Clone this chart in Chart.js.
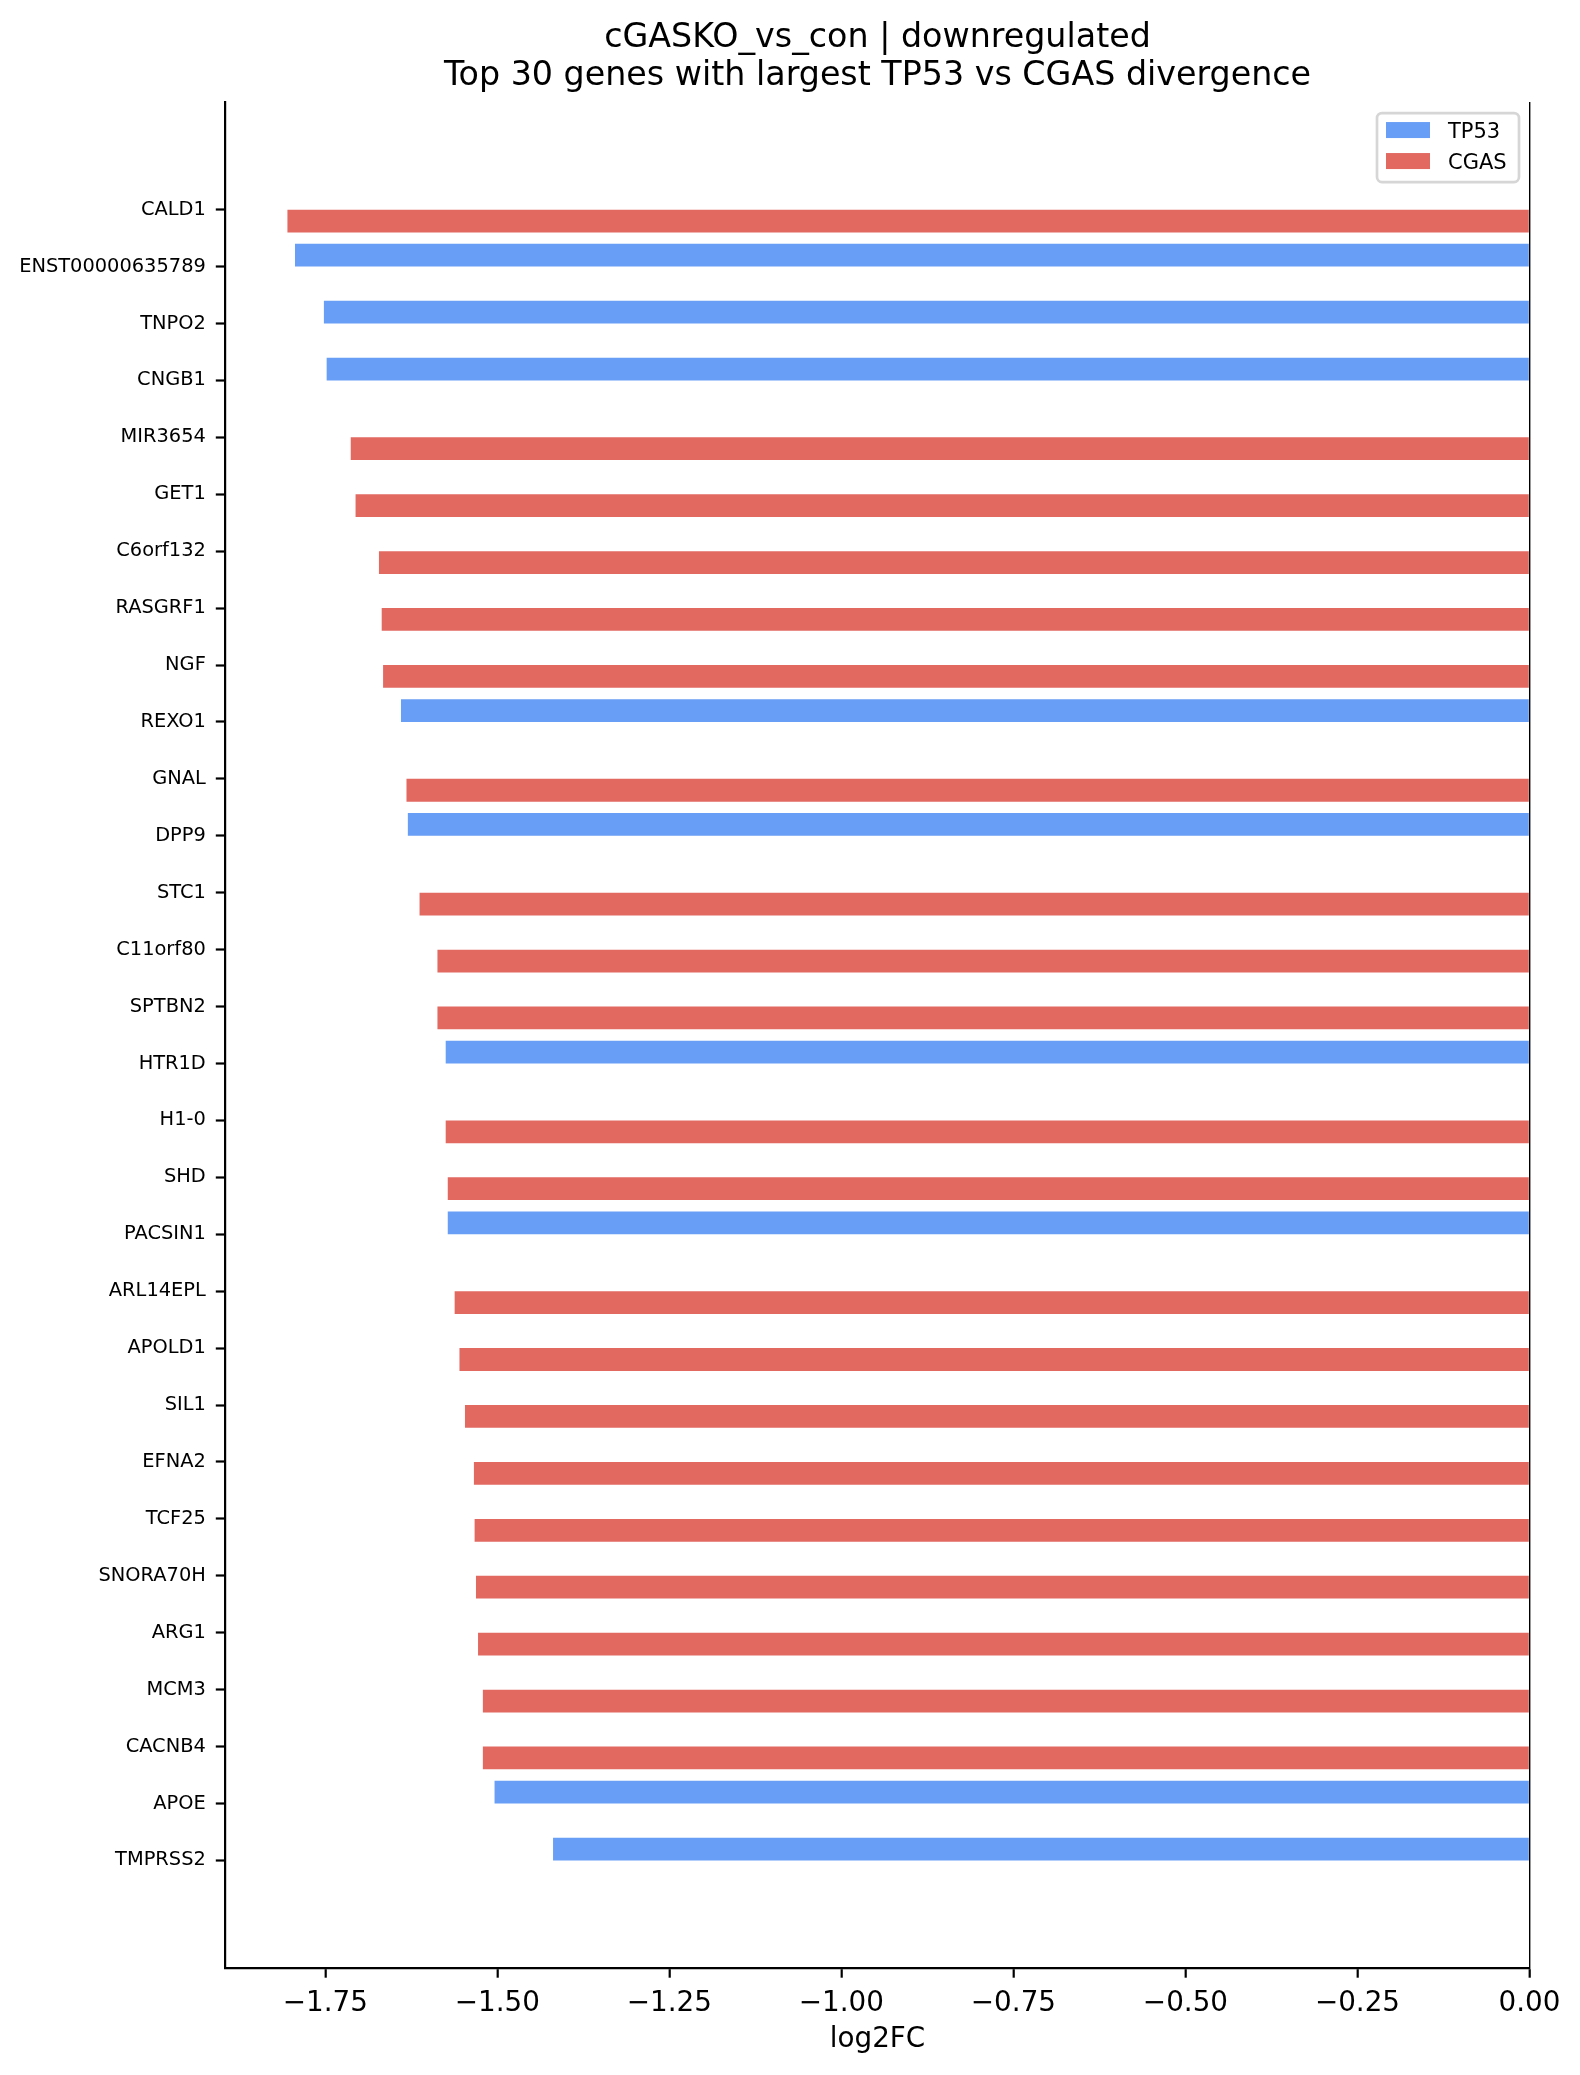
<!DOCTYPE html>
<html>
<head>
<meta charset="utf-8">
<title>cGASKO_vs_con | downregulated</title>
<script src="https://cdn.jsdelivr.net/npm/chart.js@4.4.1/dist/chart.umd.min.js"></script>
<style>
  html, body { margin: 0; padding: 0; background: #fff; }
  canvas { display: block; }
</style>
</head>
<body>
<canvas id="divergenceChart" width="1580" height="2075" style="width:1580px;height:2075px"></canvas>
<script>
const genes = ['CALD1', 'ENST00000635789', 'TNPO2', 'CNGB1', 'MIR3654', 'GET1', 'C6orf132',
  'RASGRF1', 'NGF', 'REXO1', 'GNAL', 'DPP9', 'STC1', 'C11orf80', 'SPTBN2', 'HTR1D', 'H1-0',
  'SHD', 'PACSIN1', 'ARL14EPL', 'APOLD1', 'SIL1', 'EFNA2', 'TCF25', 'SNORA70H', 'ARG1',
  'MCM3', 'CACNB4', 'APOE', 'TMPRSS2'];

// log2FC per gene, null where the series has no bar
const tp53 = [null, -1.794, -1.752, -1.748, null, null, null, null, null, -1.640, null, -1.630,
  null, null, null, -1.575, null, null, -1.572, null, null, null, null, null, null, null,
  null, null, -1.504, -1.419];
const cgas = [-1.805, null, null, null, -1.713, -1.706, -1.672, -1.668, -1.666, null, -1.632, null,
  -1.613, -1.587, -1.587, null, -1.575, -1.572, null, -1.562, -1.555, -1.547, -1.534, -1.533,
  -1.531, -1.528, -1.521, -1.521, null, null];

const xTicks = [-1.75, -1.5, -1.25, -1.0, -0.75, -0.5, -0.25, 0];
const xMin = -1.895;
const xMax = 0;
const yMin = -1.89;
const yMax = 30.89;

const toPoints = vals => vals.map((v, i) => ({ x: v, y: i }));
const fmt = v => (v < 0 ? '\u2212' : '') + Math.abs(v).toFixed(2);

// legend box drawn inside the plot, top right
const boxLegend = {
  id: 'boxLegend',
  afterDraw(chart) {
    const { ctx, chartArea } = chart;
    const w = 142, h = 69;
    const x = chartArea.right - 10.5 - w;
    const y = chartArea.top + 11;
    ctx.save();
    ctx.beginPath();
    ctx.roundRect(x, y, w, h, 5);
    ctx.fillStyle = 'rgba(255,255,255,0.8)';
    ctx.fill();
    ctx.lineWidth = 2.7;
    ctx.strokeStyle = '#d6d6d6';
    ctx.stroke();
    ctx.font = '21px "DejaVu Sans"';
    ctx.textBaseline = 'alphabetic';
    ctx.textAlign = 'left';
    chart.data.datasets.forEach((ds, i) => {
      const rowTop = y + 9 + i * 31;
      ctx.fillStyle = ds.backgroundColor;
      ctx.fillRect(x + 9, rowTop, 44, 16);
      ctx.fillStyle = '#000';
      ctx.fillText(ds.label, x + 71, rowTop + 15.7);
    });
    ctx.restore();
  }
};

Chart.defaults.font.family = '"DejaVu Sans"';
Chart.defaults.color = '#000';

const ctx = document.getElementById('divergenceChart').getContext('2d');
new Chart(ctx, {
  type: 'bar',
  data: {
    datasets: [
      { label: 'TP53', data: toPoints(tp53), backgroundColor: '#689ef5', borderWidth: 0 },
      { label: 'CGAS', data: toPoints(cgas), backgroundColor: '#e26960', borderWidth: 0 }
    ]
  },
  options: {
    indexAxis: 'y',
    responsive: false,
    devicePixelRatio: 1,
    animation: false,
    categoryPercentage: 0.8,
    barPercentage: 1.0,
    layout: { padding: { top: 0, left: 0, right: 50.5, bottom: 0 } },
    plugins: {
      legend: { display: false },
      tooltip: { enabled: false },
      title: {
        display: true,
        fullSize: false, // centre over the plot area, like the axes title
        text: ['cGASKO_vs_con | downregulated', 'Top 30 genes with largest TP53 vs CGAS divergence'],
        font: { size: 33.3, weight: 'normal', lineHeight: 1.16 },
        color: '#000',
        padding: { top: 18.6, bottom: 6.2 }
      }
    },
    scales: {
      x: {
        type: 'linear',
        min: xMin,
        max: xMax,
        afterBuildTicks: scale => { scale.ticks = xTicks.map(v => ({ value: v })); },
        afterFit: scale => { scale.height = 107; },
        ticks: {
          callback: v => fmt(v),
          font: { size: 27.8 },
          padding: 9.7,
          maxRotation: 0,
          autoSkip: false
        },
        grid: {
          drawOnChartArea: true,
          color: c => (c.tick && c.tick.value === 0 ? '#000' : 'rgba(0,0,0,0)'),
          lineWidth: 1.4,
          tickColor: '#000',
          tickWidth: 2.2,
          tickLength: 9.7
        },
        border: { display: true, color: '#000', width: 2.2 },
        title: {
          display: true,
          text: 'log2FC',
          font: { size: 27.8, lineHeight: 1.2 },
          padding: { top: 0, bottom: 18.9 }
        }
      },
      y: {
        type: 'linear',
        min: yMin,
        max: yMax,
        reverse: true,
        offset: false,
        afterBuildTicks: scale => { scale.ticks = genes.map((g, i) => ({ value: i })); },
        afterFit: scale => { scale.width = 225.5; },
        ticks: {
          callback: v => genes[v],
          font: { size: 19.4 },
          padding: 10,
          autoSkip: false
        },
        grid: {
          offset: false,
          drawOnChartArea: false,
          tickColor: '#000',
          tickWidth: 2.2,
          tickLength: 9.7
        },
        border: { display: true, color: '#000', width: 2.2 }
      }
    }
  },
  plugins: [boxLegend]
});
</script>
</body>
</html>
